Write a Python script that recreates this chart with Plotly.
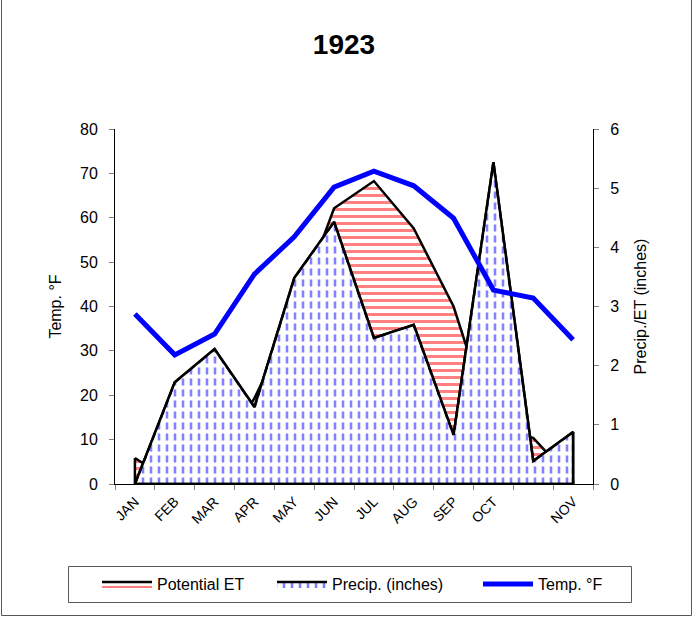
import plotly.graph_objects as go

# Monthly climate record, 1923
months = ["JAN", "FEB", "MAR", "APR", "MAY", "JUN", "JUL", "AUG", "SEP", "OCT", "", "NOV"]
temp_f = [38.3, 29.1, 33.8, 47.3, 55.7, 66.9, 70.5, 67.2, 59.9, 43.7, 41.9, 32.5]
precip_in = [0.0, 1.72, 2.28, 1.30, 3.48, 4.43, 2.47, 2.69, 0.83, 5.44, 0.39, 0.88]
pet_in = [0.44, 0.0, 0.30, 1.45, 2.85, 4.66, 5.12, 4.32, 3.00, 0.90, 0.78, 0.05]

FONT = "Arial, Liberation Sans, sans-serif"
W, H = 699, 620
L, R, T, B = 115, 106, 129, 136
PW, PH = W - L - R, H - T - B

x = list(range(len(months)))


def closed(vals):
    """Area outline: the series, then down to zero and back along the baseline."""
    return x + [x[-1], x[0], x[0]], list(vals) + [0, 0, vals[0]]


def px_x(p):
    return (p - L) / PW


def px_y(p):
    return (T + PH - p) / PH


pet_x, pet_y = closed(pet_in)
pr_x, pr_y = closed(precip_in)

fig = go.Figure()

# Potential ET area (red hatch)
fig.add_trace(go.Scatter(
    x=pet_x, y=pet_y, name="Potential ET", mode="lines", yaxis="y", legend="legend",
    fill="toself", fillcolor="white",
    fillpattern=dict(shape="-", fgcolor="#ff0000", bgcolor="white", size=7, solidity=0.42),
    line=dict(color="black", width=2.5),
))

# Precipitation area (blue vertical dashes)
fig.add_trace(go.Scatter(
    x=pr_x, y=pr_y, name="Precip. (inches)", mode="lines", yaxis="y", legend="legend",
    fill="toself", fillcolor="white",
    fillpattern=dict(shape="|", fgcolor="#0000ff", bgcolor="white", size=8, solidity=0.32),
    line=dict(color="black", width=2.5),
))
# white bands that break the vertical lines into dashes
fig.add_trace(go.Scatter(
    x=pr_x, y=pr_y, mode="lines", yaxis="y", showlegend=False, hoverinfo="skip",
    fill="toself", fillcolor="rgba(255,255,255,0.02)",
    fillpattern=dict(shape="-", fgcolor="#ffffff", fgopacity=1,
                     bgcolor="rgba(255,255,255,0.02)", size=11, solidity=0.36),
    line=dict(width=0.1, color="rgba(255,255,255,0.02)"),
))
# precipitation outline on top
fig.add_trace(go.Scatter(
    x=pr_x, y=pr_y, mode="lines", yaxis="y", showlegend=False, hoverinfo="skip",
    line=dict(color="black", width=2.5),
))

# Temperature line (left axis)
fig.add_trace(go.Scatter(
    x=x, y=temp_f, name="Temp. °F", mode="lines", yaxis="y2", legend="legend2",
    line=dict(color="#0000ff", width=5),
))

axis_font = dict(family=FONT, size=16, color="black")
legend_common = dict(
    orientation="h", xref="container", yref="container", xanchor="left",
    y=1 - 567 / H, yanchor="top", borderwidth=0, bgcolor="rgba(0,0,0,0)",
    font=dict(family=FONT, size=16, color="black"), itemwidth=50,
)

fig.update_layout(
    width=W, height=H,
    margin=dict(l=L, r=R, t=T, b=B, autoexpand=False),
    paper_bgcolor="white", plot_bgcolor="white",
    font=dict(family=FONT, color="black"),
    title=dict(text="<b>1923</b>", x=344 / W, xanchor="center", xref="container",
               y=1 - 44 / H, yanchor="middle", yref="container",
               font=dict(family=FONT, size=28, color="black")),
    xaxis=dict(
        range=[-0.5, len(months) - 0.5], tickmode="array", tickvals=x, ticktext=months,
        tickangle=-45, ticks="", tickfont=dict(family=FONT, size=14, color="black"),
        showline=True, linecolor="black", linewidth=1, showgrid=False, zeroline=False,
        ticklabelstandoff=3,
        minor=dict(ticks="outside", ticklen=5, tickcolor="#808080", tickwidth=1,
                   tickmode="array", tickvals=[i - 0.5 for i in range(len(months) + 1)],
                   showgrid=False),
    ),
    yaxis=dict(
        side="right", range=[0, 6], dtick=1, ticks="outside", ticklen=5,
        tickcolor="#808080", tickfont=axis_font, showline=True, linecolor="black",
        linewidth=1, showgrid=False, zeroline=False, ticklabelstandoff=8,
        title=dict(text="Precip./ET (inches)", font=axis_font, standoff=16),
    ),
    yaxis2=dict(
        side="left", overlaying="y", range=[0, 80], dtick=10, ticks="outside", ticklen=5,
        tickcolor="#808080", tickfont=axis_font, showline=True, linecolor="black",
        linewidth=1, showgrid=False, zeroline=False, ticklabelstandoff=8,
        title=dict(text="Temp. °F", font=axis_font, standoff=14),
    ),
    legend=dict(legend_common, x=97 / W, entrywidth=110, entrywidthmode="pixels"),
    legend2=dict(legend_common, x=478 / W),
    showlegend=True,
)

# chart-area frame
fig.add_shape(type="rect", xref="paper", yref="paper",
              x0=px_x(1.5), x1=px_x(691.5), y0=px_y(615.5), y1=px_y(-2),
              line=dict(color="#595959", width=1), fillcolor="rgba(0,0,0,0)", layer="below")
# legend frame
fig.add_shape(type="rect", xref="paper", yref="paper",
              x0=px_x(68.5), x1=px_x(631.5), y0=px_y(602.5), y1=px_y(566.5),
              line=dict(color="#595959", width=1), fillcolor="rgba(0,0,0,0)", layer="below")

fig.write_html("out.html")
